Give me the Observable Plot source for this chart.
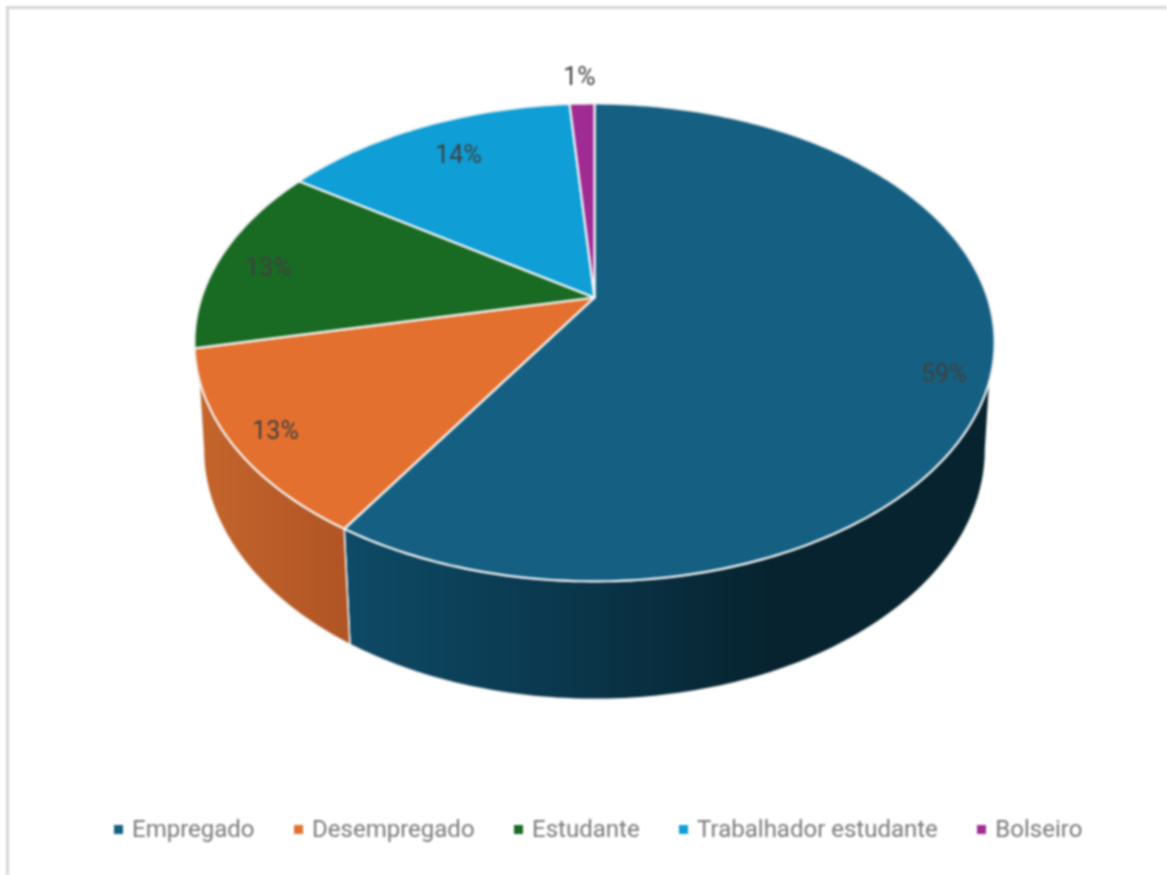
<!DOCTYPE html>
<html lang="pt">
<head>
<meta charset="utf-8">
<script src="https://cdn.jsdelivr.net/npm/d3@7"></script>
<script src="https://cdn.jsdelivr.net/npm/@observablehq/plot@0.6"></script>
<style>
  html,body{margin:0;padding:0;background:#fff;overflow:hidden}
  #page{position:relative;width:1167px;height:875px;overflow:hidden;filter:blur(.8px);background:#fff}
  #frame{position:absolute;left:6px;top:6px;right:-10px;bottom:-10px;border-left:3px solid #d6d6d6;border-top:3px solid #d6d6d6}
  #chart{position:absolute;left:0;top:0}
  #legend{position:absolute;left:114px;top:812px;height:34px;display:flex;align-items:center;
    font-family:Roboto,sans-serif;font-size:24px;color:#7a7a7a;white-space:nowrap}
  .item{display:flex;align-items:center;margin-right:39.5px}
  .swatch{width:9px;height:9px;margin-right:9px;flex:none}
</style>
</head>
<body>
<div id="page">
  <div id="frame"></div>
  <div id="chart"></div>
  <div id="legend"></div>
</div>
<script>
// Data
const categories = ["Empregado", "Desempregado", "Estudante", "Trabalhador estudante", "Bolseiro"];
const values = [59, 12.6, 12.8, 14.4, 1.2];
const topColors = ["#156082", "#E4702F", "#196B24", "#0F9ED5", "#A02B93"];

// Layout of the tilted pie
const W = 1167, H = 800;
const cx = 594, cyTop = 297, cyBottom = 402;
const ax = 393, byTop = 230.5, byBottom = 241, axBottom = 384, k = 0.188;
// where the label sits: angle (degrees from the top, clockwise) and radius (fraction)
const labelAngles = [110.5, 234.4, 278.9, 330.7, 357.7];
const labelRadii = [0.894, 0.90, 0.861, 0.80, 1.17];

const rim = (deg, r, level) => {
  const t = deg * Math.PI / 180, u = r * Math.sin(t), v = -r * Math.cos(t), w = 1 - k * v;
  return level === "top"
    ? {x: cx + ax * u / w, y: cyTop + byTop * v / w}
    : {x: cx + axBottom * u / w, y: cyBottom + byBottom * v / w};
};
const arc = (a, b, level) => {
  const n = Math.max(2, Math.ceil(Math.abs(b - a))), pts = [];
  for (let i = 0; i <= n; ++i) pts.push(rim(a + (b - a) * i / n, 1, level));
  return pts;
};

const total = d3.sum(values);
const cum = d3.cumsum(values);
const ends = Array.from(cum, c => c / total * 360);
const starts = [0, ...ends.slice(0, -1)];

const topSlices = values.map((_, i) => {
  const c = rim(0, 0, "top");
  return [c, ...arc(starts[i], ends[i], "top"), c];
});

// Visible side walls; the silhouette leaves the top and bottom rims at different angles
const sideRightTop = 109.3, sideRightBottom = 100.8, sideLeftTop = 250.7, sideLeftBottom = 259.2;
const wallBlue = [...arc(sideRightTop, ends[0], "top"), ...arc(ends[0], sideRightBottom, "bottom")];
const wallOrange = [...arc(ends[0], sideLeftTop, "top"), ...arc(sideLeftBottom, ends[0], "bottom")];
wallBlue.push(wallBlue[0]);
wallOrange.push(wallOrange[0]);

const labels = values.map((v, i) => ({...rim(labelAngles[i], labelRadii[i], "top"), text: Math.round(v) + "%"}));

const gradients = () => {
  const defs = d3.create("svg:defs");
  const add = (id, stops) => {
    const g = defs.append("linearGradient").attr("id", id);
    stops.forEach(([o, c]) => g.append("stop").attr("offset", o).attr("stop-color", c));
  };
  add("wallBlue", [[0, "#0E4A66"], [0.3, "#0B3A50"], [0.66, "#07232F"], [1, "#07232F"]]);
  add("wallOrange", [[0, "#C4652C"], [1, "#B05425"]]);
  return defs.node();
};

const opts = {x: "x", y: "y", curve: "linear", strokeLinejoin: "round"};
const chart = Plot.plot({
  width: W, height: H, margin: 0,
  x: {domain: [0, W], range: [0, W], axis: null},
  y: {domain: [0, H], range: [0, H], axis: null},
  marks: [
    gradients,
    Plot.line(wallBlue, {...opts, fill: "url(#wallBlue)", stroke: "#f4f4f4", strokeWidth: 1.5}),
    Plot.line(wallOrange, {...opts, fill: "url(#wallOrange)", stroke: "#f4f4f4", strokeWidth: 1.5}),
    ...topSlices.map((pts, i) => Plot.line(pts, {...opts, fill: topColors[i], stroke: "#f4f4f4", strokeWidth: 2.2})),
    Plot.text(labels, {x: "x", y: "y", text: "text", fill: "#404040", fontSize: 25, fontFamily: "Roboto, sans-serif", lineAnchor: "middle"})
  ]
});
chart.style.background = "transparent";
document.getElementById("chart").append(chart);

const legend = d3.select("#legend");
categories.forEach((c, i) => {
  const item = legend.append("div").attr("class", "item");
  item.append("span").attr("class", "swatch").style("background", topColors[i]);
  item.append("span").text(c);
});
</script>
</body>
</html>
